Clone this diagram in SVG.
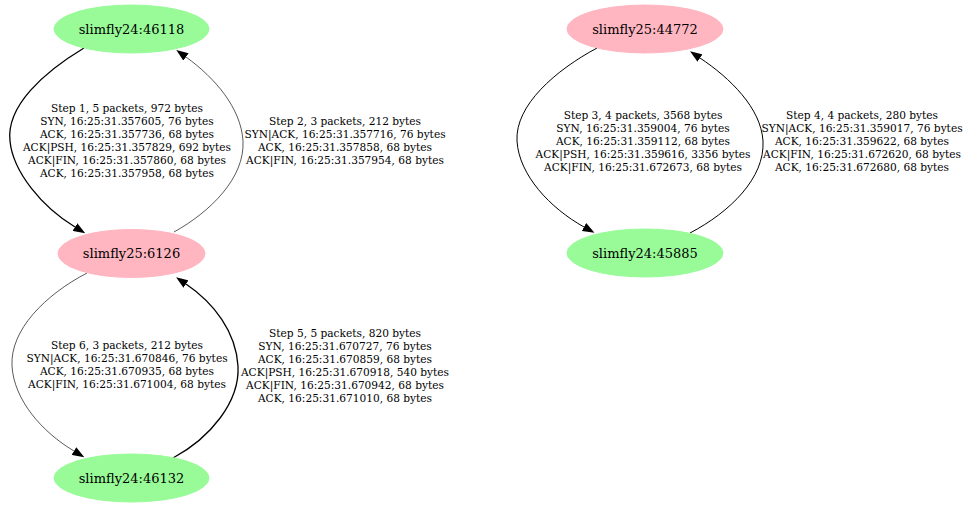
<svg xmlns="http://www.w3.org/2000/svg" width="968" height="508" viewBox="0 0 968 508">
<style>
.nl{font-family:"DejaVu Serif","Liberation Serif",serif;font-size:13px;text-anchor:middle;fill:#000}
.el{font-family:"DejaVu Serif","Liberation Serif",serif;font-size:10.6px;text-anchor:middle;fill:#000}
.green{fill:#98fb98;stroke:#98fb98}
.pink{fill:#ffb6c1;stroke:#ffb6c1}
.e{fill:none;stroke:#000;marker-end:url(#arr)}
.w5{stroke-width:1.3}
.w4{stroke-width:1}
.w3{stroke-width:0.65}
</style>
<defs>
<marker id="arr" markerUnits="userSpaceOnUse" markerWidth="12" markerHeight="9" refX="0" refY="4.5" orient="auto">
<path d="M0,0 L12,4.5 L0,9 z" fill="#000"/>
</marker>
</defs>
<rect width="968" height="508" fill="#fff"/>
<g id="connectors">
<path class="e w5" d="M84,48 C44,72 6,106 10,141 C13,172 42,207 75,227"/>
<path class="e w3" d="M174,232 C210,212 245,178 243,141 C241,108 215,78 186,57"/>
<path class="e w4" d="M597,48 C556,70 515,105 517,141 C519,175 550,208 584,227"/>
<path class="e w4" d="M690,233 C730,212 765,178 763,141 C761,108 730,78 700,58"/>
<path class="e w5" d="M173,458 C210,438 240,402 238,366 C236,332 214,303 186,284"/>
<path class="e w3" d="M87,273 C45,295 10,330 12,366 C14,400 42,432 74,451"/>
</g>
<g id="edge-labels">
<text class="el" x="127" y="112">Step 1, 5 packets, 972 bytes</text>
<text class="el" x="127" y="125">SYN, 16:25:31.357605, 76 bytes</text>
<text class="el" x="127" y="138">ACK, 16:25:31.357736, 68 bytes</text>
<text class="el" x="127" y="151">ACK|PSH, 16:25:31.357829, 692 bytes</text>
<text class="el" x="127" y="164">ACK|FIN, 16:25:31.357860, 68 bytes</text>
<text class="el" x="127" y="177">ACK, 16:25:31.357958, 68 bytes</text>
<text class="el" x="345" y="125">Step 2, 3 packets, 212 bytes</text>
<text class="el" x="345" y="138">SYN|ACK, 16:25:31.357716, 76 bytes</text>
<text class="el" x="345" y="151">ACK, 16:25:31.357858, 68 bytes</text>
<text class="el" x="345" y="164">ACK|FIN, 16:25:31.357954, 68 bytes</text>
<text class="el" x="643" y="118.5">Step 3, 4 packets, 3568 bytes</text>
<text class="el" x="643" y="131.5">SYN, 16:25:31.359004, 76 bytes</text>
<text class="el" x="643" y="144.5">ACK, 16:25:31.359112, 68 bytes</text>
<text class="el" x="643" y="157.5">ACK|PSH, 16:25:31.359616, 3356 bytes</text>
<text class="el" x="643" y="170.5">ACK|FIN, 16:25:31.672673, 68 bytes</text>
<text class="el" x="862" y="118.5">Step 4, 4 packets, 280 bytes</text>
<text class="el" x="862" y="131.5">SYN|ACK, 16:25:31.359017, 76 bytes</text>
<text class="el" x="862" y="144.5">ACK, 16:25:31.359622, 68 bytes</text>
<text class="el" x="862" y="157.5">ACK|FIN, 16:25:31.672620, 68 bytes</text>
<text class="el" x="862" y="170.5">ACK, 16:25:31.672680, 68 bytes</text>
<text class="el" x="345" y="337">Step 5, 5 packets, 820 bytes</text>
<text class="el" x="345" y="350">SYN, 16:25:31.670727, 76 bytes</text>
<text class="el" x="345" y="363">ACK, 16:25:31.670859, 68 bytes</text>
<text class="el" x="345" y="376">ACK|PSH, 16:25:31.670918, 540 bytes</text>
<text class="el" x="345" y="389">ACK|FIN, 16:25:31.670942, 68 bytes</text>
<text class="el" x="345" y="402">ACK, 16:25:31.671010, 68 bytes</text>
<text class="el" x="127" y="349">Step 6, 3 packets, 212 bytes</text>
<text class="el" x="127" y="362">SYN|ACK, 16:25:31.670846, 76 bytes</text>
<text class="el" x="127" y="375">ACK, 16:25:31.670935, 68 bytes</text>
<text class="el" x="127" y="388">ACK|FIN, 16:25:31.671004, 68 bytes</text>
</g>
<g id="n46118"><ellipse class="green" cx="131.5" cy="29" rx="77.5" ry="24"/><text class="nl" x="131.5" y="33.5">slimfly24:46118</text></g>
<g id="n6126"><ellipse class="pink" cx="131.5" cy="253.5" rx="73.5" ry="24"/><text class="nl" x="131.5" y="258">slimfly25:6126</text></g>
<g id="n46132"><ellipse class="green" cx="131.5" cy="478" rx="77.5" ry="24"/><text class="nl" x="131.5" y="482.5">slimfly24:46132</text></g>
<g id="n44772"><ellipse class="pink" cx="645" cy="29" rx="78" ry="24"/><text class="nl" x="645" y="33.5">slimfly25:44772</text></g>
<g id="n45885"><ellipse class="green" cx="645" cy="253" rx="78" ry="24"/><text class="nl" x="645" y="257.5">slimfly24:45885</text></g>
</svg>
